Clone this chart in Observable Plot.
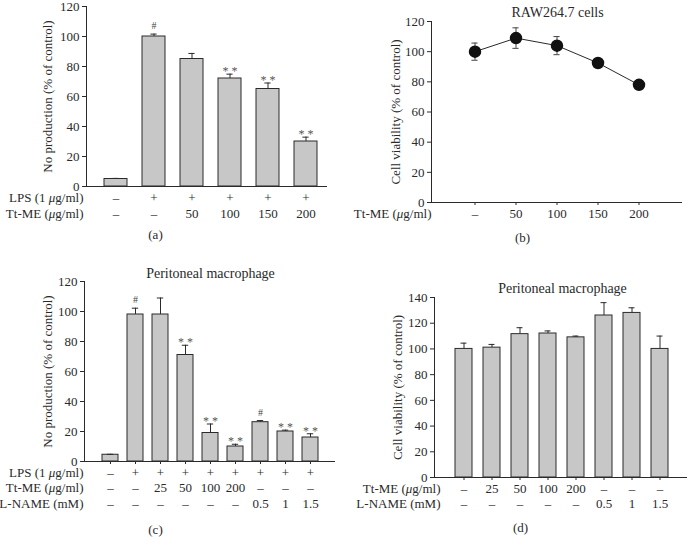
<!DOCTYPE html>
<html>
<head>
<meta charset="utf-8">
<script src="https://cdn.jsdelivr.net/npm/d3@7"></script>
<script src="https://cdn.jsdelivr.net/npm/@observablehq/plot@0.6"></script>
<style>
  html, body { margin: 0; padding: 0; background: #fff; }
  #fig { position: relative; width: 687px; height: 551px; background: #fff; overflow: hidden; }
  #fig > div, #fig > svg { position: absolute; }
</style>
</head>
<body>
<div id="fig"></div>
<script>
// ---------- Panel (a): RAW264.7, NO production ----------
const aCats = ["a1", "a2", "a3", "a4", "a5", "a6"];
const aLPS = ["–", "+", "+", "+", "+", "+"];
const aTtME = ["–", "–", "50", "100", "150", "200"];
const aValues = [5, 100, 85, 72, 65, 30];
const aErrors = [0.4, 1.6, 3.7, 2.9, 4, 2.9];
const aSig = ["", "#", "", "* *", "* *", "* *"];

// ---------- Panel (b): RAW264.7 cell viability ----------
const bCats = ["b1", "b2", "b3", "b4", "b5"];
const bTtME = ["–", "50", "100", "150", "200"];
const bValues = [100, 109, 104, 92.5, 78];
const bErrors = [5.7, 6.8, 6, 2.5, 1];

// ---------- Panel (c): Peritoneal macrophage, NO production ----------
const cCats = ["c1", "c2", "c3", "c4", "c5", "c6", "c7", "c8", "c9"];
const cLPS = ["–", "+", "+", "+", "+", "+", "+", "+", "+"];
const cTtME = ["–", "–", "25", "50", "100", "200", "–", "–", "–"];
const cLNAME = ["–", "–", "–", "–", "–", "–", "0.5", "1", "1.5"];
const cValues = [4.5, 98, 98, 71, 19, 10, 26.2, 20, 16];
const cErrors = [0.3, 4.2, 11, 6.5, 6, 1.5, 1.1, 0.9, 2.5];
const cSig = ["", "#", "", "* *", "* *", "* *", "#", "* *", "* *"];

// ---------- Panel (d): Peritoneal macrophage cell viability ----------
const dCats = ["d1", "d2", "d3", "d4", "d5", "d6", "d7", "d8"];
const dTtME = ["–", "25", "50", "100", "200", "–", "–", "–"];
const dLNAME = ["–", "–", "–", "–", "–", "0.5", "1", "1.5"];
const dValues = [100, 101, 111.5, 112, 109, 126, 128, 100];
const dErrors = [4.5, 2.5, 5, 2, 1, 10, 4, 10];

const FONT = "'Liberation Serif', 'Times New Roman', 'DejaVu Serif', serif";
const INK = "#2a2a2a";
const BAR = "#c7c7c7";

const fig = document.getElementById("fig");

function italicMu(svg) {
  const ns = "http://www.w3.org/2000/svg";
  svg.querySelectorAll("text, tspan").forEach(t => {
    if (t.children.length === 0 && t.textContent.includes("μ")) {
      const parts = t.textContent.split("μ");
      t.textContent = "";
      parts.forEach((p, i) => {
        if (i > 0) {
          const s = document.createElementNS(ns, "tspan");
          s.setAttribute("font-style", "italic");
          s.textContent = "μ";
          t.appendChild(s);
        }
        if (p) t.appendChild(document.createTextNode(p));
      });
    }
  });
}

function place(svg, left, top) {
  svg.style.left = left + "px";
  svg.style.top = top + "px";
  italicMu(svg);
  fig.appendChild(svg);
}

function commonText(o) {
  const marks = [];
  o.rows.forEach(r => {
    marks.push(Plot.text(o.data, {x: "c", text: (d, i) => r.values[i], frameAnchor: "bottom", dy: r.dy, fontSize: 13, fill: INK}));
    marks.push(Plot.text([r.label], {text: d => d, frameAnchor: "bottom-left", dx: r.dx, dy: r.dy, textAnchor: "end", fontSize: 13, fill: INK}));
  });
  marks.push(Plot.text([o.yLabel], {text: d => d, frameAnchor: "left", dx: o.yLabelDx, rotate: -90, textAnchor: "middle", fontSize: 13, fill: INK}));
  if (o.title) marks.push(Plot.text([o.title], {text: d => d, frameAnchor: "top-left", dx: o.titleDx, dy: o.titleDy, textAnchor: "middle", fontSize: 14, fill: INK}));
  marks.push(Plot.text([o.panel], {text: d => d, frameAnchor: "bottom-left", dx: o.panelDx, dy: o.panelDy, textAnchor: "middle", fontSize: 13, fill: INK}));
  return marks;
}

function barPanel(o) {
  const data = o.cats.map((c, i) => ({c, v: o.values[i], e: o.errors[i], s: o.sig ? o.sig[i] : ""}));
  o.data = data;
  const step = (o.xRange[1] - o.xRange[0]) / o.cats.length;
  const bw = step * (1 - o.padInner);
  const inset = (bw - 6) / 2;
  return Plot.plot({
    width: o.width, height: o.height,
    marginTop: o.mt, marginBottom: o.mb, marginLeft: o.ml, marginRight: o.mr,
    style: {fontFamily: FONT, fontSize: "13px", color: INK, background: "transparent", overflow: "visible"},
    x: {type: "band", domain: o.cats, range: o.xRange, paddingInner: o.padInner, paddingOuter: o.padInner / 2, axis: null},
    y: {domain: o.yDomain, axis: null},
    marks: [
      Plot.barY(data, {x: "c", y: "v", fill: BAR, stroke: INK, strokeWidth: 1}),
      Plot.ruleX(data, {x: "c", y1: "v", y2: d => d.v + d.e, stroke: INK, strokeWidth: 1}),
      Plot.tickY(data, {x: "c", y: d => d.v + d.e, insetLeft: inset, insetRight: inset, stroke: INK, strokeWidth: 1}),
      Plot.text(data.filter(d => d.s === "#"), {x: "c", y: d => d.v + d.e, text: "s", dy: -8, fontSize: 10, fill: "#444"}),
      Plot.text(data.filter(d => d.s !== "#" && d.s !== ""), {x: "c", y: d => d.v + d.e, text: "s", dy: -3, fontSize: 12, fill: "#555"}),
      o.xTicks ? Plot.axisX({tickSize: 3, tickFormat: () => "", label: null, stroke: INK}) : null,
      Plot.axisY({ticks: o.yTicks, tickSize: 4, tickPadding: 3, label: null, fontSize: 13, stroke: INK, fill: INK}),
      Plot.ruleY([0], {stroke: INK, strokeWidth: 1}),
      Plot.frame({anchor: "left", stroke: INK, strokeWidth: 1}),
      ...commonText(o)
    ]
  });
}

// Panel (a)
place(barPanel({
  cats: aCats, values: aValues, errors: aErrors, sig: aSig,
  width: 340, height: 255, mt: 6, mb: 69, ml: 86, mr: 13,
  xRange: [96, 324], padInner: 0.4, xTicks: false,
  yDomain: [0, 120], yTicks: [0, 20, 40, 60, 80, 100, 120],
  yLabel: "No production (% of control)", yLabelDx: -39,
  rows: [
    {label: "LPS (1 μg/ml)", values: aLPS, dy: 15, dx: -3},
    {label: "Tt-ME (μg/ml)", values: aTtME, dy: 31, dx: -3}
  ],
  panel: "(a)", panelDx: 69, panelDy: 52
}), 0, 0);

// Panel (b)
{
  const data = bCats.map((c, i) => ({c, v: bValues[i], e: bErrors[i]}));
  const o = {
    data, yLabel: "Cell viability (% of control)", yLabelDx: -36,
    title: "RAW264.7 cells", titleDx: 126, titleDy: -14,
    rows: [{label: "Tt-ME (μg/ml)", values: bTtME, dy: 15, dx: 0}],
    panel: "(b)", panelDx: 91, panelDy: 39
  };
  const xr = [112.2, 320.7];
  const bw = (xr[1] - xr[0]) / bCats.length * 0.5;
  const inset = (bw - 6) / 2;
  const svg = Plot.plot({
    width: 347, height: 255, marginTop: 21, marginBottom: 53, marginLeft: 91, marginRight: 5,
    style: {fontFamily: FONT, fontSize: "13px", color: INK, background: "transparent", overflow: "visible"},
    x: {type: "band", domain: bCats, range: xr, paddingInner: 0.5, paddingOuter: 0.25, axis: null},
    y: {domain: [0, 120], axis: null},
    marks: [
      Plot.ruleX(data, {x: "c", y1: d => d.v - d.e, y2: d => d.v + d.e, stroke: "#444", strokeWidth: 1}),
      Plot.tickY(data, {x: "c", y: d => d.v + d.e, insetLeft: inset, insetRight: inset, stroke: "#444"}),
      Plot.tickY(data, {x: "c", y: d => d.v - d.e, insetLeft: inset, insetRight: inset, stroke: "#444"}),
      Plot.line(data, {x: "c", y: "v", stroke: INK, strokeWidth: 1}),
      Plot.dot(data, {x: "c", y: "v", r: 5.5, fill: "#111", stroke: "#111"}),
      Plot.axisX({tickSize: 3, tickFormat: () => "", label: null, stroke: INK}),
      Plot.axisY({ticks: [0, 20, 40, 60, 80, 100, 120], tickSize: 4, tickPadding: 3, label: null, fontSize: 13, stroke: INK, fill: INK}),
      Plot.ruleY([0], {stroke: INK, strokeWidth: 1}),
      Plot.frame({anchor: "left", stroke: INK, strokeWidth: 1}),
      ...commonText(o)
    ]
  });
  place(svg, 340, 0);
}

// Panel (c)
place(barPanel({
  cats: cCats, values: cValues, errors: cErrors, sig: cSig,
  width: 340, height: 296, mt: 26, mb: 90, ml: 84, mr: 5,
  xRange: [96.4, 323.6], padInner: 0.38, xTicks: true,
  yDomain: [0, 120], yTicks: [0, 20, 40, 60, 80, 100, 120],
  yLabel: "No production (% of control)", yLabelDx: -37,
  title: "Peritoneal macrophage", titleDx: 126, titleDy: -13,
  rows: [
    {label: "LPS (1 μg/ml)", values: cLPS, dy: 15, dx: -1},
    {label: "Tt-ME (μg/ml)", values: cTtME, dy: 30, dx: -1},
    {label: "L-NAME (mM)", values: cLNAME, dy: 46, dx: -1}
  ],
  panel: "(c)", panelDx: 71, panelDy: 72
}), 0, 255);

// Panel (d)
place(barPanel({
  cats: dCats, values: dValues, errors: dErrors, sig: null,
  width: 347, height: 296, mt: 42, mb: 74, ml: 94, mr: 0,
  xRange: [107.8, 335], padInner: 0.4, xTicks: true,
  yDomain: [0, 140], yTicks: [0, 20, 40, 60, 80, 100, 120, 140],
  yLabel: "Cell viability (% of control)", yLabelDx: -37,
  title: "Peritoneal macrophage", titleDx: 128, titleDy: -14,
  rows: [
    {label: "Tt-ME (μg/ml)", values: dTtME, dy: 15, dx: 6},
    {label: "L-NAME (mM)", values: dLNAME, dy: 30, dx: 6}
  ],
  panel: "(d)", panelDx: 86, panelDy: 54
}), 340, 255);
</script>
</body>
</html>
